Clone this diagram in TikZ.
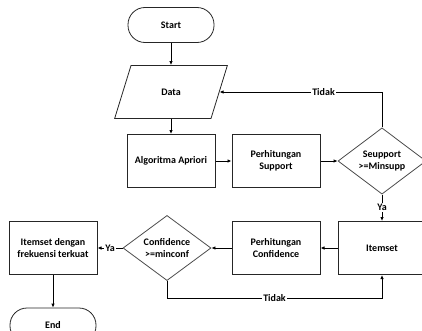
\documentclass[tikz,border=0pt]{standalone}
\usepackage{fontspec}
\setmainfont{Carlito}
\usetikzlibrary{shapes.geometric,arrows.meta,positioning}

\begin{document}
\begin{tikzpicture}[x=1pt,y=1pt,
    font=\fontsize{10}{11.5}\selectfont\bfseries,
    proc/.style={draw=black!85,line width=1pt,minimum width=88pt,minimum height=53pt,align=center},
    term/.style={draw=black!85,line width=0.8pt,rounded corners=17pt,minimum width=86pt,minimum height=35pt},
    io/.style={draw=black!85,line width=0.8pt,trapezium,trapezium left angle=68,trapezium right angle=112,
      trapezium stretches=true,minimum width=113pt,minimum height=53pt},
    cond/.style={draw=black!70,line width=0.8pt,diamond,minimum width=88pt,minimum height=53pt,inner sep=0pt,align=center},
    flow/.style={line width=0.8pt,-{Latex[length=4pt,width=3.5pt]}},
    lbl/.style={fill=white,inner sep=1pt}]
  \clip (0,0) rectangle (422,330);

  % top column
  \node[term] (start) at (171,305) {Start};
  \node[io]   (data)  at (171,238) {Data};
  \node[proc] (algo)  at (171,169) {Algoritma Apriori};
  \node[proc] (supp)  at (276,169) {Perhitungan\\Support};
  \node[cond] (csupp) at (382,169) {Seupport\\>=Minsupp};

  % bottom row
  \node[proc] (items) at (382,82) {Itemset};
  \node[proc] (pconf) at (276,82) {Perhitungan\\Confidence};
  \node[cond] (cconf) at (167,82) {Confidence\\>=minconf};
  \node[proc] (freq)  at (53,82)  {Itemset dengan\\frekuensi terkuat};
  \node[term] (end)   at (53,4.5) {End};

  \draw[flow] (start) -- (data);
  \draw[flow] (data) -- (algo);
  \draw[flow] (algo) -- (supp);
  \draw[flow] (supp) -- (csupp);
  \draw[flow] (csupp.north) |- (data.east) node[lbl,pos=0.68] {Tidak};
  \draw[flow] (csupp.south) -- node[lbl] {Ya} (items.north);
  \draw[flow] (items) -- (pconf);
  \draw[flow] (pconf) -- (cconf);
  \draw[flow] (cconf) -- node[lbl] {Ya} (freq);
  \draw[flow] (cconf.south) -- ++(0,-17) -| (items.south) node[lbl,pos=0.25] {Tidak};
  \draw[flow] (freq) -- (end);
\end{tikzpicture}
\end{document}
